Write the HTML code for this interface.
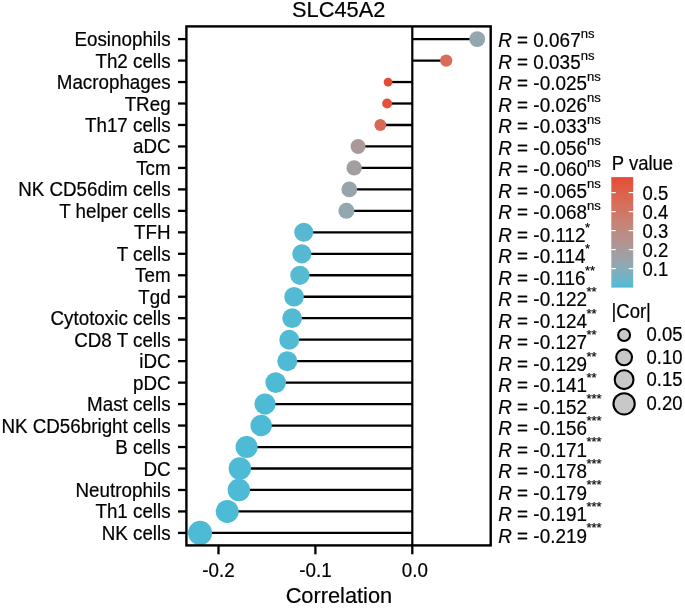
<!DOCTYPE html><html><head><meta charset="utf-8"><style>html,body{margin:0;padding:0;background:#fff;}svg{display:block;will-change:transform;}text{font-family:"Liberation Sans",sans-serif;fill:#000;stroke:#000;stroke-width:0.2px;}</style></head><body>
<svg width="685" height="608" viewBox="0 0 685 608">
<defs><linearGradient id="cb" x1="0" y1="0" x2="0" y2="1"><stop offset="0.00" stop-color="#e64b35"/><stop offset="0.05" stop-color="#e3533d"/><stop offset="0.10" stop-color="#e05b45"/><stop offset="0.15" stop-color="#dc624c"/><stop offset="0.20" stop-color="#d96954"/><stop offset="0.25" stop-color="#d56f5c"/><stop offset="0.30" stop-color="#d17564"/><stop offset="0.35" stop-color="#cc7b6b"/><stop offset="0.40" stop-color="#c88173"/><stop offset="0.45" stop-color="#c2867b"/><stop offset="0.50" stop-color="#bd8b83"/><stop offset="0.55" stop-color="#b7908b"/><stop offset="0.60" stop-color="#b09593"/><stop offset="0.65" stop-color="#a99a9b"/><stop offset="0.70" stop-color="#a19fa3"/><stop offset="0.75" stop-color="#98a4ab"/><stop offset="0.80" stop-color="#8ea9b4"/><stop offset="0.85" stop-color="#82adbc"/><stop offset="0.90" stop-color="#74b2c4"/><stop offset="0.95" stop-color="#63b7cd"/><stop offset="1.00" stop-color="#4dbbd5"/></linearGradient></defs>
<text transform="translate(338.70 17.30) scale(1 1.045)" font-size="21.80" text-anchor="middle">SLC45A2</text>
<line x1="412.30" y1="26.40" x2="412.30" y2="545.40" stroke="#000" stroke-width="2.2"/>
<line x1="477.22" y1="39.10" x2="412.30" y2="39.10" stroke="#000" stroke-width="2.3"/>
<line x1="446.22" y1="60.57" x2="412.30" y2="60.57" stroke="#000" stroke-width="2.3"/>
<line x1="388.07" y1="82.04" x2="412.30" y2="82.04" stroke="#000" stroke-width="2.3"/>
<line x1="387.11" y1="103.51" x2="412.30" y2="103.51" stroke="#000" stroke-width="2.3"/>
<line x1="380.32" y1="124.98" x2="412.30" y2="124.98" stroke="#000" stroke-width="2.3"/>
<line x1="358.04" y1="146.45" x2="412.30" y2="146.45" stroke="#000" stroke-width="2.3"/>
<line x1="354.16" y1="167.92" x2="412.30" y2="167.92" stroke="#000" stroke-width="2.3"/>
<line x1="349.31" y1="189.39" x2="412.30" y2="189.39" stroke="#000" stroke-width="2.3"/>
<line x1="346.41" y1="210.86" x2="412.30" y2="210.86" stroke="#000" stroke-width="2.3"/>
<line x1="303.77" y1="232.33" x2="412.30" y2="232.33" stroke="#000" stroke-width="2.3"/>
<line x1="301.83" y1="253.80" x2="412.30" y2="253.80" stroke="#000" stroke-width="2.3"/>
<line x1="299.90" y1="275.27" x2="412.30" y2="275.27" stroke="#000" stroke-width="2.3"/>
<line x1="294.08" y1="296.74" x2="412.30" y2="296.74" stroke="#000" stroke-width="2.3"/>
<line x1="292.14" y1="318.21" x2="412.30" y2="318.21" stroke="#000" stroke-width="2.3"/>
<line x1="289.24" y1="339.68" x2="412.30" y2="339.68" stroke="#000" stroke-width="2.3"/>
<line x1="287.30" y1="361.15" x2="412.30" y2="361.15" stroke="#000" stroke-width="2.3"/>
<line x1="275.67" y1="382.62" x2="412.30" y2="382.62" stroke="#000" stroke-width="2.3"/>
<line x1="265.01" y1="404.09" x2="412.30" y2="404.09" stroke="#000" stroke-width="2.3"/>
<line x1="261.14" y1="425.56" x2="412.30" y2="425.56" stroke="#000" stroke-width="2.3"/>
<line x1="246.60" y1="447.03" x2="412.30" y2="447.03" stroke="#000" stroke-width="2.3"/>
<line x1="239.82" y1="468.50" x2="412.30" y2="468.50" stroke="#000" stroke-width="2.3"/>
<line x1="238.85" y1="489.97" x2="412.30" y2="489.97" stroke="#000" stroke-width="2.3"/>
<line x1="227.22" y1="511.44" x2="412.30" y2="511.44" stroke="#000" stroke-width="2.3"/>
<line x1="200.09" y1="532.91" x2="412.30" y2="532.91" stroke="#000" stroke-width="2.3"/>
<circle cx="477.22" cy="39.10" r="7.96" fill="#94a6ae"/>
<circle cx="446.22" cy="60.57" r="6.14" fill="#d56f5b"/>
<circle cx="388.07" cy="82.04" r="4.40" fill="#e64b35"/>
<circle cx="387.11" cy="103.51" r="4.95" fill="#e45039"/>
<circle cx="380.32" cy="124.98" r="5.95" fill="#d96954"/>
<circle cx="358.04" cy="146.45" r="7.46" fill="#ab9999"/>
<circle cx="354.16" cy="167.92" r="7.65" fill="#a39ea1"/>
<circle cx="349.31" cy="189.39" r="7.87" fill="#98a4ab"/>
<circle cx="346.41" cy="210.86" r="8.00" fill="#92a7b0"/>
<circle cx="303.77" cy="232.33" r="9.52" fill="#57b9d1"/>
<circle cx="301.83" cy="253.80" r="9.58" fill="#56b9d2"/>
<circle cx="299.90" cy="275.27" r="9.64" fill="#55bad2"/>
<circle cx="294.08" cy="296.74" r="9.81" fill="#53bad3"/>
<circle cx="292.14" cy="318.21" r="9.86" fill="#52bad3"/>
<circle cx="289.24" cy="339.68" r="9.95" fill="#51bad4"/>
<circle cx="287.30" cy="361.15" r="10.00" fill="#50bad4"/>
<circle cx="275.67" cy="382.62" r="10.32" fill="#4ebbd5"/>
<circle cx="265.01" cy="404.09" r="10.59" fill="#4ebbd5"/>
<circle cx="261.14" cy="425.56" r="10.69" fill="#4dbbd5"/>
<circle cx="246.60" cy="447.03" r="11.04" fill="#4dbbd5"/>
<circle cx="239.82" cy="468.50" r="11.19" fill="#4dbbd5"/>
<circle cx="238.85" cy="489.97" r="11.22" fill="#4dbbd5"/>
<circle cx="227.22" cy="511.44" r="11.48" fill="#4dbbd5"/>
<circle cx="200.09" cy="532.91" r="12.05" fill="#4dbbd5"/>
<rect x="186.40" y="26.40" width="304.30" height="519.00" fill="none" stroke="#000" stroke-width="2.4"/>
<line x1="178" y1="39.10" x2="186.40" y2="39.10" stroke="#000" stroke-width="2.3"/>
<text transform="translate(170.60 46.10) scale(1 1.045)" font-size="18.80" text-anchor="end">Eosinophils</text>
<line x1="178" y1="60.57" x2="186.40" y2="60.57" stroke="#000" stroke-width="2.3"/>
<text transform="translate(170.60 67.57) scale(1 1.045)" font-size="18.80" text-anchor="end">Th2 cells</text>
<line x1="178" y1="82.04" x2="186.40" y2="82.04" stroke="#000" stroke-width="2.3"/>
<text transform="translate(170.60 89.04) scale(1 1.045)" font-size="18.80" text-anchor="end">Macrophages</text>
<line x1="178" y1="103.51" x2="186.40" y2="103.51" stroke="#000" stroke-width="2.3"/>
<text transform="translate(170.60 110.51) scale(1 1.045)" font-size="18.80" text-anchor="end">TReg</text>
<line x1="178" y1="124.98" x2="186.40" y2="124.98" stroke="#000" stroke-width="2.3"/>
<text transform="translate(170.60 131.98) scale(1 1.045)" font-size="18.80" text-anchor="end">Th17 cells</text>
<line x1="178" y1="146.45" x2="186.40" y2="146.45" stroke="#000" stroke-width="2.3"/>
<text transform="translate(170.60 153.45) scale(1 1.045)" font-size="18.80" text-anchor="end">aDC</text>
<line x1="178" y1="167.92" x2="186.40" y2="167.92" stroke="#000" stroke-width="2.3"/>
<text transform="translate(170.60 174.92) scale(1 1.045)" font-size="18.80" text-anchor="end">Tcm</text>
<line x1="178" y1="189.39" x2="186.40" y2="189.39" stroke="#000" stroke-width="2.3"/>
<text transform="translate(170.60 196.39) scale(1 1.045)" font-size="18.80" text-anchor="end">NK CD56dim cells</text>
<line x1="178" y1="210.86" x2="186.40" y2="210.86" stroke="#000" stroke-width="2.3"/>
<text transform="translate(170.60 217.86) scale(1 1.045)" font-size="18.80" text-anchor="end">T helper cells</text>
<line x1="178" y1="232.33" x2="186.40" y2="232.33" stroke="#000" stroke-width="2.3"/>
<text transform="translate(170.60 239.33) scale(1 1.045)" font-size="18.80" text-anchor="end">TFH</text>
<line x1="178" y1="253.80" x2="186.40" y2="253.80" stroke="#000" stroke-width="2.3"/>
<text transform="translate(170.60 260.80) scale(1 1.045)" font-size="18.80" text-anchor="end">T cells</text>
<line x1="178" y1="275.27" x2="186.40" y2="275.27" stroke="#000" stroke-width="2.3"/>
<text transform="translate(170.60 282.27) scale(1 1.045)" font-size="18.80" text-anchor="end">Tem</text>
<line x1="178" y1="296.74" x2="186.40" y2="296.74" stroke="#000" stroke-width="2.3"/>
<text transform="translate(170.60 303.74) scale(1 1.045)" font-size="18.80" text-anchor="end">Tgd</text>
<line x1="178" y1="318.21" x2="186.40" y2="318.21" stroke="#000" stroke-width="2.3"/>
<text transform="translate(170.60 325.21) scale(1 1.045)" font-size="18.80" text-anchor="end">Cytotoxic cells</text>
<line x1="178" y1="339.68" x2="186.40" y2="339.68" stroke="#000" stroke-width="2.3"/>
<text transform="translate(170.60 346.68) scale(1 1.045)" font-size="18.80" text-anchor="end">CD8 T cells</text>
<line x1="178" y1="361.15" x2="186.40" y2="361.15" stroke="#000" stroke-width="2.3"/>
<text transform="translate(170.60 368.15) scale(1 1.045)" font-size="18.80" text-anchor="end">iDC</text>
<line x1="178" y1="382.62" x2="186.40" y2="382.62" stroke="#000" stroke-width="2.3"/>
<text transform="translate(170.60 389.62) scale(1 1.045)" font-size="18.80" text-anchor="end">pDC</text>
<line x1="178" y1="404.09" x2="186.40" y2="404.09" stroke="#000" stroke-width="2.3"/>
<text transform="translate(170.60 411.09) scale(1 1.045)" font-size="18.80" text-anchor="end">Mast cells</text>
<line x1="178" y1="425.56" x2="186.40" y2="425.56" stroke="#000" stroke-width="2.3"/>
<text transform="translate(170.60 432.56) scale(1 1.045)" font-size="18.80" text-anchor="end">NK CD56bright cells</text>
<line x1="178" y1="447.03" x2="186.40" y2="447.03" stroke="#000" stroke-width="2.3"/>
<text transform="translate(170.60 454.03) scale(1 1.045)" font-size="18.80" text-anchor="end">B cells</text>
<line x1="178" y1="468.50" x2="186.40" y2="468.50" stroke="#000" stroke-width="2.3"/>
<text transform="translate(170.60 475.50) scale(1 1.045)" font-size="18.80" text-anchor="end">DC</text>
<line x1="178" y1="489.97" x2="186.40" y2="489.97" stroke="#000" stroke-width="2.3"/>
<text transform="translate(170.60 496.97) scale(1 1.045)" font-size="18.80" text-anchor="end">Neutrophils</text>
<line x1="178" y1="511.44" x2="186.40" y2="511.44" stroke="#000" stroke-width="2.3"/>
<text transform="translate(170.60 518.44) scale(1 1.045)" font-size="18.80" text-anchor="end">Th1 cells</text>
<line x1="178" y1="532.91" x2="186.40" y2="532.91" stroke="#000" stroke-width="2.3"/>
<text transform="translate(170.60 539.91) scale(1 1.045)" font-size="18.80" text-anchor="end">NK cells</text>
<line x1="218.50" y1="545.40" x2="218.50" y2="554.3" stroke="#000" stroke-width="2.3"/>
<text transform="translate(218.50 576.60) scale(1 1.045)" font-size="18.80" text-anchor="middle">-0.2</text>
<line x1="315.40" y1="545.40" x2="315.40" y2="554.3" stroke="#000" stroke-width="2.3"/>
<text transform="translate(315.40 576.60) scale(1 1.045)" font-size="18.80" text-anchor="middle">-0.1</text>
<line x1="412.30" y1="545.40" x2="412.30" y2="554.3" stroke="#000" stroke-width="2.3"/>
<text transform="translate(414.90 576.60) scale(1 1.045)" font-size="18.80" text-anchor="middle">0.0</text>
<text transform="translate(338.90 603.00) scale(1 1.045)" font-size="21.80" text-anchor="middle">Correlation</text>
<text transform="translate(498.20 47.30) scale(1 1.025)" font-size="18.90"><tspan font-style="italic">R</tspan> = 0.067<tspan font-size="13.1" dy="-9" dx="0">ns</tspan></text>
<text transform="translate(498.20 68.77) scale(1 1.025)" font-size="18.90"><tspan font-style="italic">R</tspan> = 0.035<tspan font-size="13.1" dy="-9" dx="0">ns</tspan></text>
<text transform="translate(498.20 90.24) scale(1 1.025)" font-size="18.90"><tspan font-style="italic">R</tspan> = -0.025<tspan font-size="13.1" dy="-9" dx="0">ns</tspan></text>
<text transform="translate(498.20 111.71) scale(1 1.025)" font-size="18.90"><tspan font-style="italic">R</tspan> = -0.026<tspan font-size="13.1" dy="-9" dx="0">ns</tspan></text>
<text transform="translate(498.20 133.18) scale(1 1.025)" font-size="18.90"><tspan font-style="italic">R</tspan> = -0.033<tspan font-size="13.1" dy="-9" dx="0">ns</tspan></text>
<text transform="translate(498.20 154.65) scale(1 1.025)" font-size="18.90"><tspan font-style="italic">R</tspan> = -0.056<tspan font-size="13.1" dy="-9" dx="0">ns</tspan></text>
<text transform="translate(498.20 176.12) scale(1 1.025)" font-size="18.90"><tspan font-style="italic">R</tspan> = -0.060<tspan font-size="13.1" dy="-9" dx="0">ns</tspan></text>
<text transform="translate(498.20 197.59) scale(1 1.025)" font-size="18.90"><tspan font-style="italic">R</tspan> = -0.065<tspan font-size="13.1" dy="-9" dx="0">ns</tspan></text>
<text transform="translate(498.20 219.06) scale(1 1.025)" font-size="18.90"><tspan font-style="italic">R</tspan> = -0.068<tspan font-size="13.1" dy="-9" dx="0">ns</tspan></text>
<text transform="translate(498.20 241.93) scale(1 1.025)" font-size="18.90"><tspan font-style="italic">R</tspan> = -0.112<tspan font-size="13.1" dy="-10" dx="-0.5">*</tspan></text>
<text transform="translate(498.20 263.40) scale(1 1.025)" font-size="18.90"><tspan font-style="italic">R</tspan> = -0.114<tspan font-size="13.1" dy="-10" dx="-0.5">*</tspan></text>
<text transform="translate(498.20 284.87) scale(1 1.025)" font-size="18.90"><tspan font-style="italic">R</tspan> = -0.116<tspan font-size="13.1" dy="-10" dx="-0.5">**</tspan></text>
<text transform="translate(498.20 306.34) scale(1 1.025)" font-size="18.90"><tspan font-style="italic">R</tspan> = -0.122<tspan font-size="13.1" dy="-10" dx="-0.5">**</tspan></text>
<text transform="translate(498.20 327.81) scale(1 1.025)" font-size="18.90"><tspan font-style="italic">R</tspan> = -0.124<tspan font-size="13.1" dy="-10" dx="-0.5">**</tspan></text>
<text transform="translate(498.20 349.28) scale(1 1.025)" font-size="18.90"><tspan font-style="italic">R</tspan> = -0.127<tspan font-size="13.1" dy="-10" dx="-0.5">**</tspan></text>
<text transform="translate(498.20 370.75) scale(1 1.025)" font-size="18.90"><tspan font-style="italic">R</tspan> = -0.129<tspan font-size="13.1" dy="-10" dx="-0.5">**</tspan></text>
<text transform="translate(498.20 392.22) scale(1 1.025)" font-size="18.90"><tspan font-style="italic">R</tspan> = -0.141<tspan font-size="13.1" dy="-10" dx="-0.5">**</tspan></text>
<text transform="translate(498.20 413.69) scale(1 1.025)" font-size="18.90"><tspan font-style="italic">R</tspan> = -0.152<tspan font-size="13.1" dy="-10" dx="-0.5">***</tspan></text>
<text transform="translate(498.20 435.16) scale(1 1.025)" font-size="18.90"><tspan font-style="italic">R</tspan> = -0.156<tspan font-size="13.1" dy="-10" dx="-0.5">***</tspan></text>
<text transform="translate(498.20 456.63) scale(1 1.025)" font-size="18.90"><tspan font-style="italic">R</tspan> = -0.171<tspan font-size="13.1" dy="-10" dx="-0.5">***</tspan></text>
<text transform="translate(498.20 478.10) scale(1 1.025)" font-size="18.90"><tspan font-style="italic">R</tspan> = -0.178<tspan font-size="13.1" dy="-10" dx="-0.5">***</tspan></text>
<text transform="translate(498.20 499.57) scale(1 1.025)" font-size="18.90"><tspan font-style="italic">R</tspan> = -0.179<tspan font-size="13.1" dy="-10" dx="-0.5">***</tspan></text>
<text transform="translate(498.20 521.04) scale(1 1.025)" font-size="18.90"><tspan font-style="italic">R</tspan> = -0.191<tspan font-size="13.1" dy="-10" dx="-0.5">***</tspan></text>
<text transform="translate(498.20 542.51) scale(1 1.025)" font-size="18.90"><tspan font-style="italic">R</tspan> = -0.219<tspan font-size="13.1" dy="-10" dx="-0.5">***</tspan></text>
<text transform="translate(611.80 170.40) scale(1 1.045)" font-size="18.50">P value</text>
<rect x="611.3" y="177.1" width="21.9" height="110.5" fill="url(#cb)"/>
<line x1="611.3" y1="192.60" x2="615.8" y2="192.60" stroke="#fff" stroke-width="1.2"/>
<line x1="628.7" y1="192.60" x2="633.2" y2="192.60" stroke="#fff" stroke-width="1.2"/>
<text transform="translate(642.50 199.70) scale(1 1.045)" font-size="18.50">0.5</text>
<line x1="611.3" y1="211.60" x2="615.8" y2="211.60" stroke="#fff" stroke-width="1.2"/>
<line x1="628.7" y1="211.60" x2="633.2" y2="211.60" stroke="#fff" stroke-width="1.2"/>
<text transform="translate(642.50 218.70) scale(1 1.045)" font-size="18.50">0.4</text>
<line x1="611.3" y1="230.60" x2="615.8" y2="230.60" stroke="#fff" stroke-width="1.2"/>
<line x1="628.7" y1="230.60" x2="633.2" y2="230.60" stroke="#fff" stroke-width="1.2"/>
<text transform="translate(642.50 237.70) scale(1 1.045)" font-size="18.50">0.3</text>
<line x1="611.3" y1="249.60" x2="615.8" y2="249.60" stroke="#fff" stroke-width="1.2"/>
<line x1="628.7" y1="249.60" x2="633.2" y2="249.60" stroke="#fff" stroke-width="1.2"/>
<text transform="translate(642.50 256.70) scale(1 1.045)" font-size="18.50">0.2</text>
<line x1="611.3" y1="268.60" x2="615.8" y2="268.60" stroke="#fff" stroke-width="1.2"/>
<line x1="628.7" y1="268.60" x2="633.2" y2="268.60" stroke="#fff" stroke-width="1.2"/>
<text transform="translate(642.50 275.70) scale(1 1.045)" font-size="18.50">0.1</text>
<text transform="translate(611.50 317.60) scale(1 1.045)" font-size="18.50">|Cor|</text>
<circle cx="624.1" cy="335.00" r="5.95" fill="#c8c8c8" stroke="#000" stroke-width="2.1"/>
<text transform="translate(646.50 341.40) scale(1 1.045)" font-size="18.50">0.05</text>
<circle cx="624.1" cy="357.30" r="7.90" fill="#c8c8c8" stroke="#000" stroke-width="2.1"/>
<text transform="translate(646.50 363.70) scale(1 1.045)" font-size="18.50">0.10</text>
<circle cx="624.1" cy="379.70" r="9.40" fill="#c8c8c8" stroke="#000" stroke-width="2.1"/>
<text transform="translate(646.50 386.10) scale(1 1.045)" font-size="18.50">0.15</text>
<circle cx="624.1" cy="403.85" r="10.65" fill="#c8c8c8" stroke="#000" stroke-width="2.1"/>
<text transform="translate(646.50 410.25) scale(1 1.045)" font-size="18.50">0.20</text>
</svg></body></html>
